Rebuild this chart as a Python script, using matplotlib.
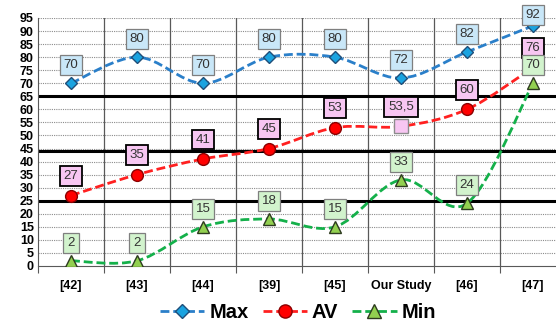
import matplotlib.pyplot as plt
from matplotlib.path import Path
from matplotlib.patches import PathPatch
from matplotlib.lines import Line2D
import numpy as np

plt.rcParams['font.family'] = ['Liberation Sans', 'DejaVu Sans']

cats = ['[42]', '[43]', '[44]', '[39]', '[45]', 'Our Study', '[46]', '[47]']
max_v = [70, 80, 70, 80, 80, 72, 82, 92]
av_v = [27, 35, 41, 45, 53, 53.5, 60, 76]
min_v = [2, 2, 15, 18, 15, 33, 24, 70]
av_lbl = ['27', '35', '41', '45', '53', '53,5', '60', '76']
hlines = [65, 44, 25]


def smooth_path(x, y):
    # excel-like smoothed line as cubic bezier segments
    p = np.column_stack([x, y]).astype(float)
    n = len(p)
    verts = [p[0]]
    codes = [Path.MOVETO]
    for i in range(n - 1):
        a = p[i - 1] if i > 0 else p[i]
        d = p[i + 2] if i + 2 < n else p[i + 1]
        c1 = p[i] + (p[i + 1] - a) / 6
        c2 = p[i + 1] - (d - p[i]) / 6
        verts += [c1, c2, p[i + 1]]
        codes += [Path.CURVE4] * 3
    return Path(verts, codes)


fig = plt.figure(figsize=(5.56, 3.23), dpi=100)
ax = fig.add_axes([38 / 556, 57 / 323, 528 / 556, 248 / 323])
x = np.arange(len(cats))
ax.set_xlim(-0.5, len(cats) - 0.5)
ax.set_ylim(0, 95)

for yy in range(5, 96, 5):
    ax.axhline(yy, color='#8c8c8c', lw=0.8, ls=(0, (1, 1)), zorder=1)
for xx in np.arange(0.5, len(cats) - 0.5, 1):
    ax.axvline(xx, color='#595959', lw=0.9, zorder=1)
for h in hlines:
    ax.axhline(h, color='black', lw=2.2, zorder=2)

dash = (0, (3.2, 1.4))
series = [
    (max_v, '#2a7fc9', 'D', '#1aa3e0', '#1f4e79', 6.5, 'Max'),
    (av_v, '#ff2020', 'o', '#ff0000', '#8b0000', 8.5, 'AV'),
    (min_v, '#14b04a', '^', '#92d050', '#2d3b1f', 8.5, 'Min'),
]
handles = []
for vals, lc, mk, fc, ec, ms, name in series:
    ax.add_patch(PathPatch(smooth_path(x, vals), fill=False, ec=lc, lw=2.0,
                           ls=dash, zorder=3))
    if name == 'AV':
        xs = [i for i in x if cats[i] != 'Our Study']
        ax.plot(xs, [vals[i] for i in xs], ls='none', marker=mk, mfc=fc,
                mec=ec, ms=ms, zorder=4)
        j = cats.index('Our Study')
        ax.plot(j, vals[j], ls='none', marker='s', mfc='#f7c6f2', mec='#8c8c8c',
                ms=10, zorder=4)
    else:
        ax.plot(x, vals, ls='none', marker=mk, mfc=fc, mec=ec, ms=ms, zorder=4)
    handles.append(Line2D([], [], color=lc, lw=2.0, ls=dash, marker=mk,
                          mfc=fc, mec=ec, ms=ms + 1))

box_max = dict(boxstyle='square,pad=0.3', fc='#c9e7f8', ec='#7f7f7f', lw=0.9)
box_av = dict(boxstyle='square,pad=0.3', fc='#f7c6f2', ec='black', lw=1.3)
box_min = dict(boxstyle='square,pad=0.3', fc='#d2f3cd', ec='#7f7f7f', lw=0.9)

for i, v in enumerate(max_v):
    off = 8 if i == len(cats) - 1 else 13
    ax.annotate(str(v), (i, v), xytext=(0, off), textcoords='offset points',
                ha='center', va='center', fontsize=9.5, color='#333333',
                bbox=box_max, zorder=6, annotation_clip=False)
for i, v in enumerate(av_v):
    ax.annotate(av_lbl[i], (i, v), xytext=(0, 14), textcoords='offset points',
                ha='center', va='center', fontsize=9.5, color='#333333',
                bbox=box_av, zorder=6)
for i, v in enumerate(min_v):
    ax.annotate(str(v), (i, v), xytext=(0, 13), textcoords='offset points',
                ha='center', va='center', fontsize=9.5, color='#333333',
                bbox=box_min, zorder=7)

ax.set_yticks(range(0, 96, 5))
ax.tick_params(axis='y', length=0, pad=3, labelsize=9)
for t in ax.get_yticklabels():
    t.set_fontweight('bold')
ax.set_xticks(np.arange(-0.5, len(cats), 1))
ax.set_xticklabels([])
ax.tick_params(axis='x', which='major', length=5, direction='out', color='#595959')
ax.set_xticks(x, minor=True)
ax.set_xticklabels(cats, minor=True, fontsize=9, fontweight='bold')
ax.tick_params(axis='x', which='minor', length=0, pad=10)

for s in ['top', 'right']:
    ax.spines[s].set_visible(False)
ax.spines['left'].set_color('#595959')
ax.spines['bottom'].set_color('#595959')

fig.legend(handles, ['Max', 'AV', 'Min'], loc='center', bbox_to_anchor=(298 / 556, 1 - 313 / 323),
           ncol=3, frameon=False, prop={'weight': 'bold', 'size': 14.5},
           handlelength=2.2, columnspacing=0.7, handletextpad=0.25)

fig.savefig('out.png', dpi=100)
